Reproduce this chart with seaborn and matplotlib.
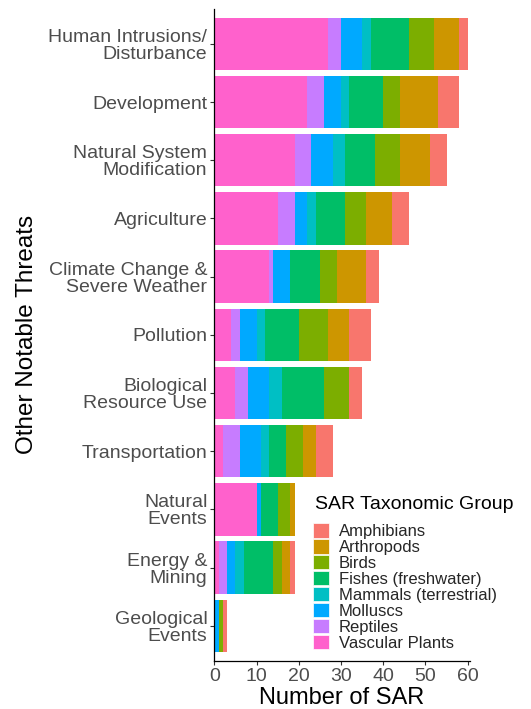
import numpy as np
import pandas as pd
import matplotlib
matplotlib.use("Agg")
import matplotlib.pyplot as plt
from matplotlib.patches import Patch
import seaborn as sns

sns.set_theme(style="ticks")
plt.rcParams['font.family'] = ['Liberation Sans', 'DejaVu Sans']

# threats, top to bottom
threats = ["Human Intrusions/\nDisturbance", "Development", "Natural System\nModification",
           "Agriculture", "Climate Change &\nSevere Weather", "Pollution",
           "Biological\nResource Use", "Transportation", "Natural\nEvents",
           "Energy &\nMining", "Geological\nEvents"]

# legend order (ggplot order); stacking goes from the last one on the left
groups = ["Amphibians", "Arthropods", "Birds", "Fishes (freshwater)",
          "Mammals (terrestrial)", "Molluscs", "Reptiles", "Vascular Plants"]
colors = ["#F8766D", "#CD9600", "#7CAE00", "#00BE67",
          "#00BFC4", "#00A9FF", "#C77CFF", "#FF61CC"]

amphibians = [2, 5, 4, 4, 3, 5, 3, 4, 0, 1, 1]
arthropods = [6, 9, 7, 6, 7, 5, 0, 3, 1, 2, 0]
birds      = [6, 4, 6, 5, 4, 7, 6, 4, 3, 2, 1]
fishes     = [9, 8, 7, 7, 7, 8, 10, 4, 4, 7, 0]
mammals    = [2, 2, 3, 2, 0, 2, 3, 2, 0, 2, 0]
molluscs   = [5, 4, 5, 3, 4, 4, 5, 5, 1, 2, 1]
reptiles   = [3, 4, 4, 4, 1, 2, 3, 4, 0, 2, 0]
plants     = [27, 22, 19, 15, 13, 4, 5, 2, 10, 1, 0]

counts = pd.DataFrame({
    "Amphibians": amphibians, "Arthropods": arthropods, "Birds": birds,
    "Fishes (freshwater)": fishes, "Mammals (terrestrial)": mammals,
    "Molluscs": molluscs, "Reptiles": reptiles, "Vascular Plants": plants,
}, index=threats)

# cumulative from the left: Vascular Plants first
cum = counts[groups[::-1]].cumsum(axis=1)

fig = plt.figure(figsize=(5.31, 7.09), dpi=100)
ax = fig.add_axes([0.4036, 0.0681, 0.4812, 0.9192])

# draw widest cumulative bar first, then overlay the shorter ones
for g, c in zip(groups, colors):
    d = pd.DataFrame({"threat": threats, "n": cum[g].values})
    sns.barplot(data=d, x="n", y="threat", order=threats, color=c,
                width=0.9, linewidth=0, saturation=1, ax=ax)

ax.set_xlim(0, 60.5)
ax.set_ylim(10.6, -0.6)
ax.set_xticks([0, 10, 20, 30, 40, 50, 60])

for s in ["top", "right"]:
    ax.spines[s].set_visible(False)
for s in ["left", "bottom"]:
    ax.spines[s].set_color("black")
    ax.spines[s].set_linewidth(0.9)

ax.tick_params(axis="both", labelsize=14, labelcolor="#4D4D4D", color="#333333",
               length=3, width=0.8, pad=2)
for t in ax.get_yticklabels():
    t.set_linespacing(1.0)

ax.set_xlabel("Number of SAR", fontsize=17, color="black", labelpad=2)
ax.set_ylabel("Other Notable Threats", fontsize=17.5, color="black")
ax.yaxis.set_label_coords(-0.69, 0.5)

# legend title drawn separately to get ggplot's gap under it
fig.text(0.593, 0.300, "SAR Taxonomic Group", fontsize=14, color="black",
         ha="left", va="top")
handles = [Patch(facecolor=c, edgecolor="white", linewidth=0.5) for c in colors]
fig.legend(handles, groups, loc="upper left",
           bbox_to_anchor=(0.59, 0.262), frameon=False, fontsize=12,
           handlelength=0.95, handleheight=0.95,
           handletextpad=0.6, labelspacing=0.0, borderpad=0, borderaxespad=0)

fig.savefig("out.png", dpi=100)
